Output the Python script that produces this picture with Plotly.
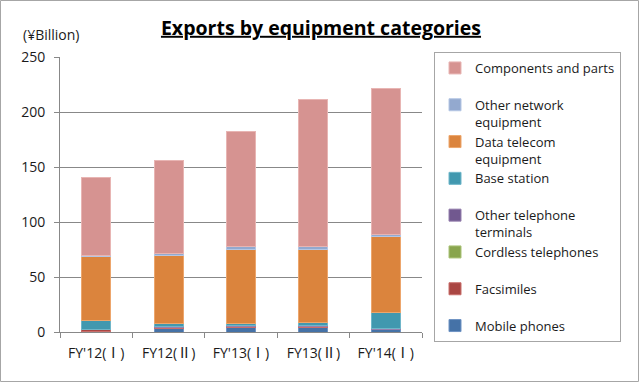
import plotly.graph_objects as go

categories = ["FY'12(Ⅰ)", "FY12(Ⅱ)", "FY'13(Ⅰ)", "FY13(Ⅱ)", "FY'14(Ⅰ)"]

mobile_phones = [0.3, 3.5, 4.5, 4.5, 2.0]
facsimiles = [1.8, 0.3, 0.3, 0.3, 0.3]
cordless_telephones = [0.1, 0.1, 0.1, 0.1, 0.1]
other_telephone_terminals = [0.5, 0.8, 1.0, 1.0, 0.8]
base_station = [8.0, 2.8, 1.8, 3.0, 14.5]
data_telecom_equipment = [57.8, 62.2, 67.3, 66.1, 68.7]
other_network_equipment = [1.0, 1.5, 2.3, 2.3, 2.4]
components_and_parts = [71.1, 84.3, 105.4, 133.9, 132.4]

series = [
    ("Mobile phones", mobile_phones, "#4572A7", "#6f93c4"),
    ("Facsimiles<br>&nbsp;", facsimiles, "#AA4643", "#c86e6b"),
    ("Cordless telephones<br>&nbsp;", cordless_telephones, "#89A54E", "#a9c276"),
    ("Other telephone<br>terminals", other_telephone_terminals, "#71588F", "#9580ae"),
    ("Base station<br>&nbsp;", base_station, "#4198AF", "#6fb6c9"),
    ("Data telecom<br>equipment", data_telecom_equipment, "#DB843D", "#eda66c"),
    ("Other network<br>equipment", other_network_equipment, "#93A9CF", "#b4c6e4"),
    ("Components and parts<br>&nbsp;", components_and_parts, "#D69391", "#e8b5b3"),
]

W, H = 640, 383
L, R, T, B = 60, 218, 57, 51
pw = W - L - R
ph = H - T - B

fig = go.Figure()
for name, vals, col, edge in series:
    fig.add_trace(go.Bar(
        x=categories, y=vals, name=name,
        marker=dict(color=col, line=dict(color=edge, width=1)),
    ))

font_family = "'Open Sans', 'Noto Sans CJK JP', sans-serif"

fig.update_layout(
    width=W, height=H,
    barmode="stack", bargap=0.6,
    margin=dict(l=L, r=R, t=T, b=B, autoexpand=False),
    paper_bgcolor="white", plot_bgcolor="white",
    font=dict(family=font_family, size=13, color="#1a1a1a"),
    title=dict(
        text="<b><span style='text-decoration:underline'>Exports by equipment categories</span></b>",
        x=(321 - L) / pw, xref="paper", xanchor="center",
        y=1 - 28 / H, yanchor="middle",
        font=dict(size=19.5, color="#000000", family=font_family),
    ),
    legend=dict(
        traceorder="reversed",
        x=(434 - L) / pw, xanchor="left",
        y=(H - B - 52) / ph, yanchor="top",
        valign="top",
        maxheight=400,
        bordercolor="#a6a6a6", borderwidth=1,
        font=dict(size=13, color="#1a1a1a", family=font_family),
        itemclick=False,
    ),
    xaxis=dict(
        showline=True, linecolor="#888888", linewidth=1,
        ticks="outside", ticklen=5, tickcolor="#888888",
        tickson="boundaries",
        tickfont=dict(size=14),
        ticklabelstandoff=8,
        showgrid=False,
    ),
    yaxis=dict(
        range=[0, 250], dtick=50,
        showline=True, linecolor="#888888", linewidth=1,
        ticks="outside", ticklen=5, tickcolor="#888888",
        showgrid=True, gridcolor="#888888", gridwidth=1,
        tickfont=dict(size=14),
        ticklabelstandoff=6,
        zeroline=False,
    ),
    annotations=[dict(
        text="(¥Billion)", xref="paper", yref="paper",
        x=(21 - L) / pw, y=(H - B - 35) / ph, xanchor="left", yanchor="middle",
        showarrow=False, font=dict(size=14, color="#1a1a1a"),
    )],
    shapes=[dict(
        type="rect", xref="paper", yref="paper",
        x0=(0.5 - L) / pw, x1=(W - 1.5 - L) / pw,
        y0=-(B - 1.5) / ph, y1=1 + (T - 0.5) / ph,
        line=dict(color="#a6a6a6", width=1), layer="below",
    )],
)

fig.write_html(
    "out.html",
    config={"displayModeBar": False},
    post_script="document.body.style.margin='0';document.body.style.overflow='hidden';",
)
